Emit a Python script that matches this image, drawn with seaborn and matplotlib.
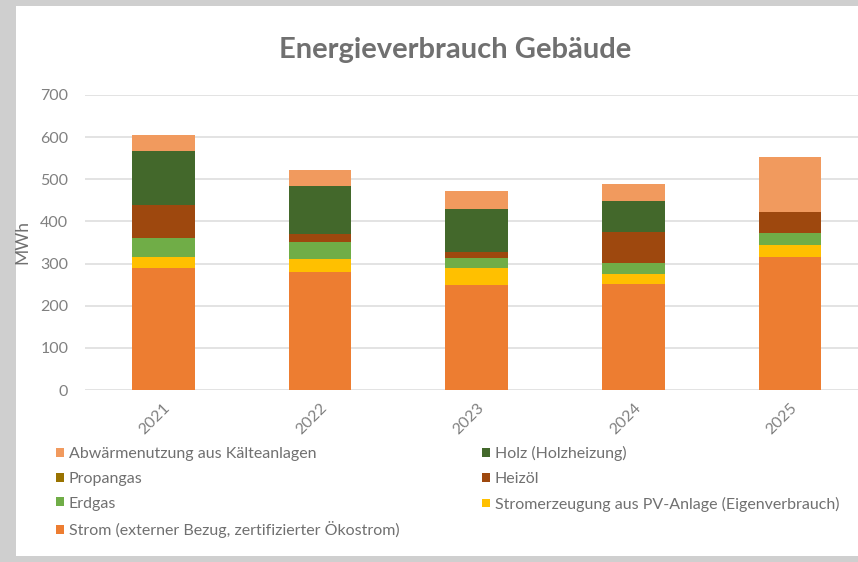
import matplotlib
matplotlib.use('Agg')
import matplotlib.pyplot as plt
import seaborn as sb
import numpy as np
from matplotlib.patches import Patch, Rectangle

years = ['2021', '2022', '2023', '2024', '2025']

# stack order bottom -> top (MWh)
strom = [289, 281, 248, 251, 316]
pv = [26, 31, 42, 24, 28]
erdgas = [46, 40, 24, 26, 28]
heizoel = [78, 17, 13, 75, 50]
propangas = [0, 0, 0, 0, 0]
holz = [128, 114, 103, 73, 0]
abwaerme = [39, 40, 42, 40, 131]

names = ['Strom (externer Bezug, zertifizierter Ökostrom)',
         'Stromerzeugung aus PV-Anlage (Eigenverbrauch)',
         'Erdgas', 'Heizöl', 'Propangas', 'Holz (Holzheizung)',
         'Abwärmenutzung aus Kälteanlagen']
series = [strom, pv, erdgas, heizoel, propangas, holz, abwaerme]
colors = ['#ED7D31', '#FFC000', '#70AD47', '#9E480E', '#997300', '#43682B', '#F19A5E']

sb.set_style('white')
plt.rcParams['font.family'] = ['Lato', 'DejaVu Sans']

fig = plt.figure(figsize=(8.58, 5.62), dpi=100, facecolor='#cfcfcf')
fig.patches.append(Rectangle((16 / 858, 1 - 556 / 562), 1, (556 - 6) / 562,
                             transform=fig.transFigure, facecolor='white',
                             edgecolor='none', zorder=-5))
ax = fig.add_axes([85 / 858, 1 - 390 / 562, 783.5 / 858, 295 / 562])
ax.set_facecolor('none')

cum = np.cumsum(np.array(series), axis=0)
# draw tallest cumulative first so lower layers sit on top
for i in range(len(series) - 1, -1, -1):
    sb.barplot(x=years, y=cum[i], color=colors[i], saturation=1, width=0.4,
               linewidth=0, edgecolor='none', ax=ax, zorder=2)

ax.set_ylim(0, 700)
ax.set_yticks(range(0, 701, 100))
ax.yaxis.grid(True, color='#dedede', linewidth=1.2, zorder=0)
ax.set_axisbelow(True)
for s in ax.spines.values():
    s.set_visible(False)
ax.tick_params(axis='both', length=0, colors='#808080', labelsize=11.5)
ax.tick_params(axis='y', pad=12)
ax.tick_params(axis='x', pad=8)
plt.setp(ax.get_xticklabels(), rotation=45, ha='right', rotation_mode='anchor')
ax.set_ylabel('MWh', color='#707070', fontsize=12.5, labelpad=7)

fig.text(455 / 858, 1 - 50 / 562, 'Energieverbrauch Gebäude', ha='center', va='center',
         fontsize=21, fontweight='bold', color='#707070')

order = [6, 4, 2, 0, 5, 3, 1]
handles = [Patch(facecolor=colors[i], edgecolor='none') for i in order]
labels = [names[i] for i in order]
fig.legend(handles, labels, ncol=2, loc='upper left', bbox_to_anchor=(42 / 858, 1 - 432 / 562),
           frameon=False, fontsize=11.5, labelcolor='#707070', handlelength=0.47, handleheight=0.47,
           handletextpad=0.3, columnspacing=5.2, labelspacing=0.66)

fig.savefig('out.png', dpi=100, facecolor=fig.get_facecolor())
